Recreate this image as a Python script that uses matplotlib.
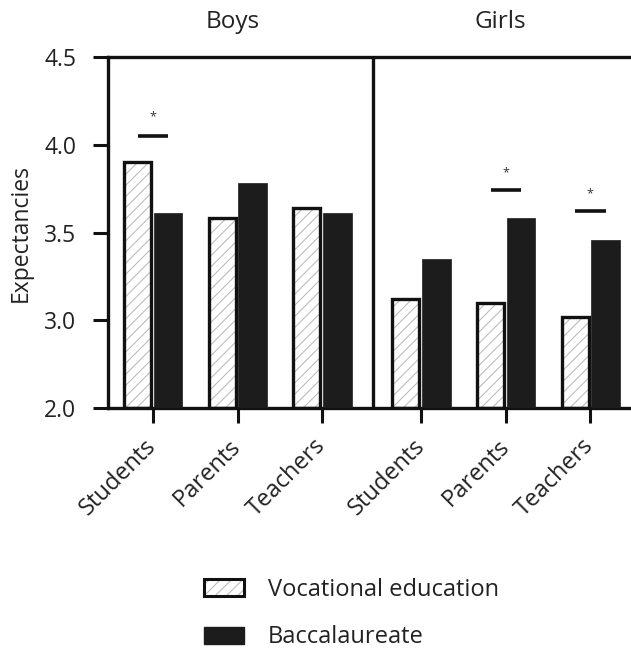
import numpy as np
import matplotlib
matplotlib.use("Agg")
import matplotlib.pyplot as plt
from matplotlib.patches import Patch

plt.rcParams['font.family'] = ['Open Sans', 'DejaVu Sans']

# Data
categories = ["Students", "Parents", "Teachers"]
groups = ["Boys", "Girls"]
vocational = {"Boys": [3.90, 3.58, 3.64], "Girls": [3.12, 3.10, 3.02]}
baccalaureate = {"Boys": [3.61, 3.78, 3.61], "Girls": [3.35, 3.58, 3.46]}
# significant differences: (group, category index, bar height, star height)
sig_group = ["Boys", "Girls", "Girls"]
sig_cat = [0, 1, 2]
sig_line = [4.05, 3.74, 3.62]
sig_star = [4.16, 3.84, 3.72]

yticks = [2.0, 3.0, 3.5, 4.0, 4.5]
ylabels = ["2.0", "3.0", "3.5", "4.0", "4.5"]
legend_labels = ["Vocational education", "Baccalaureate"]

# Layout
group_offset = {"Boys": 0.0, "Girls": 3.17}
divider_x = 2.6
bar_w = 0.34
base = 2.0
hatch_col = '#bdbdbd'
ink = '#111111'
text_col = '#222222'


def fwd(y):
    y = np.asarray(y, dtype=float)
    return np.where(y < 3.0, 3.0 - (3.0 - y) * 0.5, y)


def inv(u):
    u = np.asarray(u, dtype=float)
    return np.where(u < 3.0, 3.0 - (3.0 - u) * 2.0, u)


plt.rcParams['hatch.linewidth'] = 0.8
fig = plt.figure(figsize=(6.31, 6.51), dpi=100)
ax = fig.add_axes([0.1712, 0.3733, 1.0 - 0.1712, 0.9124 - 0.3733])
ax.set_yscale('function', functions=(fwd, inv))
ax.set_ylim(2.0, 4.5)
ax.set_xlim(-0.53, 5.65)

lw = 2.4
positions = []
for g in groups:
    x = group_offset[g] + np.arange(len(categories))
    positions.extend(x)
    v = np.array(vocational[g])
    b = np.array(baccalaureate[g])
    # hatched fill, then black outline
    ax.bar(x - bar_w / 2 - 0.01, v - base, bar_w - 0.02, bottom=base,
           color='white', edgecolor=hatch_col, hatch='///', linewidth=0, zorder=2)
    ax.bar(x - bar_w / 2 - 0.01, v - base, bar_w - 0.02, bottom=base,
           fill=False, edgecolor=ink, linewidth=lw, zorder=3)
    ax.bar(x + bar_w / 2 + 0.01, b - base, bar_w, bottom=base,
           color='#1c1c1c', edgecolor='#1c1c1c', linewidth=0.5, zorder=3)

for g, c, hl, hs in zip(sig_group, sig_cat, sig_line, sig_star):
    xc = group_offset[g] + c
    ax.plot([xc - 0.18, xc + 0.18], [hl, hl], color=ink, lw=2.6,
            solid_capstyle='butt', zorder=4)
    ax.text(xc, hs, "*", ha='center', va='center', fontsize=9, color='#333333')

ax.axvline(divider_x, color=ink, lw=lw, zorder=4)

for s in ['left', 'bottom', 'top']:
    ax.spines[s].set_linewidth(lw)
    ax.spines[s].set_color(ink)
ax.spines['right'].set_visible(False)

ax.set_yticks(yticks)
ax.set_yticklabels(ylabels)
ax.yaxis.set_minor_locator(matplotlib.ticker.NullLocator())
ax.set_xticks(positions)
ax.set_xticklabels(categories * 2, rotation=45, ha='right', va='center',
                   rotation_mode='anchor')
ax.tick_params(axis='both', length=11, width=2.2, color=ink,
               labelcolor=text_col)
ax.tick_params(axis='x', pad=14, labelsize=17)
ax.tick_params(axis='y', pad=12, labelsize=16.5)
ax.set_ylabel("Expectancies", fontsize=16.5, color=text_col, labelpad=8)

for g in groups:
    ax.text(group_offset[g] + 0.94, 1.10, g, transform=ax.get_xaxis_transform(),
            ha='center', va='center', fontsize=17.5, color=text_col)

handles = [
    (Patch(facecolor='white', edgecolor=hatch_col, hatch='///', linewidth=0),
     Patch(fill=False, edgecolor=ink, linewidth=2.2)),
    Patch(facecolor='#1c1c1c', edgecolor='#1c1c1c'),
]
fig.legend(handles, legend_labels, loc='upper left',
           bbox_to_anchor=(0.29, 0.145), frameon=False, fontsize=17,
           handlelength=1.7, handleheight=0.72, handletextpad=1.0,
           labelspacing=1.0, labelcolor=text_col)

fig.savefig("out.png", dpi=100)
